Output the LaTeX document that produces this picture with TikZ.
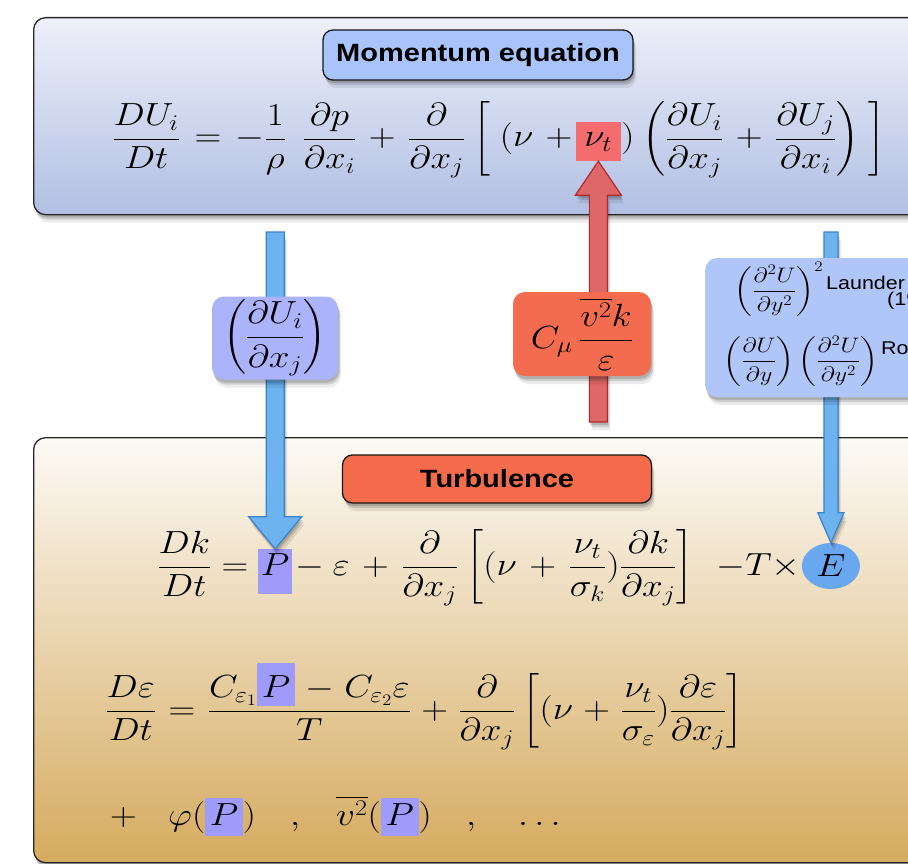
\RequirePackage{fix-cm}
\documentclass[tikz,border=0pt]{standalone}
\usepackage{fontspec}
\usepackage{amsmath}
\usepackage{graphicx}
\setsansfont{Liberation Sans}
\usetikzlibrary{calc,shadows,shapes.geometric}
\definecolor{topA}{HTML}{EEF0F9}
\definecolor{topB}{HTML}{B1BFE3}
\definecolor{botA}{HTML}{FCFAF6}
\definecolor{botB}{HTML}{D5AB5F}
\definecolor{momC}{HTML}{A9C3FB}
\definecolor{turbC}{HTML}{F56C4C}
\definecolor{hlPC}{HTML}{9E9BFB}
\definecolor{hlNuC}{HTML}{F46C6E}
\definecolor{arrB}{HTML}{6DB3EF}
\definecolor{arrBd}{HTML}{3B83CC}
\definecolor{arrR}{HTML}{DE6767}
\definecolor{arrRd}{HTML}{B02A2A}
\definecolor{ellC}{HTML}{6AA7F1}
\definecolor{boxOneC}{HTML}{ABB3FB}
\definecolor{boxTwoC}{HTML}{F36C4F}
\definecolor{boxThreeC}{HTML}{B1C6F8}
\newcommand{\eqsize}{\fontsize{32}{38}\selectfont}
\newcommand{\sx}[1]{\scalebox{1.16}[1]{#1}}
\newcommand{\spwide}{\thinmuskip=4mu\medmuskip=6mu\thickmuskip=7mu}
\newcommand{\spmid}{\thinmuskip=4mu\medmuskip=6mu\thickmuskip=7mu}
\newcommand{\hlP}[2]{{\setlength{\fboxsep}{0pt}\colorbox{hlPC}{#1\hspace{4pt}$#2$\hspace{4pt}}}}
\newcommand{\vblockarrow}[6]{%
  \path[#6] let \p1=(#1), \p2=(#2), \n1={sign(\y2-\y1)*#5} in
  ({\x2-#3},\y1) -- ({\x2-#3},{\y2-(\n1)}) -- ({\x2-#4},{\y2-(\n1)}) -- (\x2,\y2)
  -- ({\x2+#4},{\y2-(\n1)}) -- ({\x2+#3},{\y2-(\n1)}) -- ({\x2+#3},\y1) -- cycle;}
\begin{document}
\begin{tikzpicture}[x=1pt,y=-1pt,
  shad/.style={drop shadow={shadow xshift=1pt,shadow yshift=-3pt,opacity=0.15,fill=black},
               drop shadow={shadow xshift=2pt,shadow yshift=-5pt,opacity=0.12,fill=black},
               drop shadow={shadow xshift=3pt,shadow yshift=-8pt,opacity=0.08,fill=black}},
  panel/.style={draw=black!85,line width=1.3pt,rounded corners=12pt,shad,inner sep=0pt},
  tag/.style={draw=black!90,line width=1.3pt,rounded corners=10pt,shad,font=\sffamily\bfseries\fontsize{25}{30}\selectfont},
  eq/.style={inner sep=0pt,font=\eqsize},
  midbox/.style={rounded corners=12pt,shad,inner sep=0pt,font=\eqsize},
  small/.style={inner sep=0pt,font=\fontsize{21}{25}\selectfont},
  stext/.style={inner sep=0pt,anchor=west,font=\sffamily\fontsize{18.5}{22}\selectfont},
  blueArr/.style={fill=arrB,draw=arrBd,line width=1.2pt,shad},
  redArr/.style={fill=arrR,draw=arrRd,line width=1.2pt,shad}]
\useasboundingbox (0,0) rectangle (908,864);
\clip (0,0) rectangle (908,864);
% panels
\node[panel,top color=topA,bottom color=topB,anchor=north west,minimum width=920pt,minimum height=197pt] (top) at (33,17) {};
\node[panel,top color=botA,bottom color=botB,anchor=north west,minimum width=920pt,minimum height=425pt] (bot) at (33,437) {};
\node[tag,fill=momC,minimum width=310pt,minimum height=50pt] (mom) at (478,55) {\sx{Momentum equation}};
\node[tag,fill=turbC,minimum width=309pt,minimum height=48pt] (turb) at (497,479) {\sx{Turbulence}};
% momentum equation
\node[eq,anchor=base west] (m1) at (112,147) {\sx{\spwide$\displaystyle \frac{DU_i}{Dt} = -\frac{1}{\rho}\mskip8mu\frac{\partial p}{\partial x_i} + \frac{\partial}{\partial x_j}\left[\vphantom{\left(\frac{\partial U_i}{\partial x_j}\right)}\right.(\nu\mskip\medmuskip\mathord{+}$}};
\node[eq,fill=hlNuC,anchor=base west,minimum width=45pt,text height=25pt,text depth=14pt] (nut) at ([xshift=3pt]m1.base east) {\sx{$\nu_t$}};
\node[eq,anchor=base west] (m2) at (nut.base east) {\sx{\spwide$\displaystyle )\left(\frac{\partial U_i}{\partial x_j}+\frac{\partial U_j}{\partial x_i}\right)\left.\vphantom{\left(\frac{\partial U_i}{\partial x_j}\right)}\right]$}};
% k equation
\node[eq,anchor=base west] (k1) at (157,575) {\sx{$\displaystyle \frac{Dk}{Dt} =$}};
\node[eq,fill=hlPC,anchor=base west,minimum width=34pt,text height=26pt,text depth=19pt] (P1) at (258,575) {\sx{$P$}};
\node[eq,anchor=base west] (k2) at ([xshift=3pt]P1.base east) {\sx{\spmid$\displaystyle -\,\varepsilon + \frac{\partial}{\partial x_j}\left[(\nu + \frac{\nu_t}{\sigma_k})\frac{\partial k}{\partial x_j}\right]\; {-}T\times$}};
\coordinate (ey) at (0,566);
\node[eq,ellipse,fill=ellC,inner sep=0pt,minimum width=58pt,minimum height=46pt,anchor=west] (E) at ([xshift=1pt]k2.east|-ey) {\sx{$E$}};
% epsilon equation
\node[eq,anchor=base west] (e1) at (105,719) {\sx{\thinmuskip=3.5mu\medmuskip=5mu\thickmuskip=6mu$\displaystyle \frac{D\varepsilon}{Dt} = \frac{C_{\varepsilon_1}\hlP{\rule[-9pt]{0pt}{43pt}}{P}- C_{\varepsilon_2}\varepsilon}{T} + \frac{\partial}{\partial x_j}\left[(\nu + \frac{\nu_t}{\sigma_\varepsilon})\frac{\partial \varepsilon}{\partial x_j}\right]$}};
% last line
\node[eq,anchor=base west] (l1) at (110,825) {\sx{$+$}};
\node[eq,anchor=base west] (l2) at (168,825) {\sx{$\varphi(\hlP{\rule[-11pt]{0pt}{38pt}}{P})$}};
\node[eq,anchor=base west] (l3) at (290,825) {\sx{$,$}};
\node[eq,anchor=base west] (l4) at (336,825) {\sx{$\overline{v^2}(\hlP{\rule[-11pt]{0pt}{38pt}}{P})$}};
\node[eq,anchor=base west] (l5) at (466,825) {\sx{$,$}};
\node[eq,anchor=base west] (l6) at (518,825) {\sx{$\ldots$}};
% arrows
\coordinate (sL) at (276,232);
\coordinate (sR) at (829,232);
\coordinate (sM) at (586,422);
\vblockarrow{sL}{P1.north}{9}{26.5}{32}{blueArr}
\vblockarrow{sR}{E.north}{7}{13}{30}{blueArr}
\vblockarrow{sM}{nut.south}{9}{23}{34}{redArr}
% middle boxes
\node[midbox,fill=boxOneC,minimum width=126pt,minimum height=83pt] (b1) at (275,338) {\sx{$\displaystyle\left(\frac{\partial U_i}{\partial x_j}\right)$}};
\node[midbox,fill=boxTwoC,minimum width=138pt,minimum height=84pt] (b2) at (582,334) {\sx{$\displaystyle C_\mu\,\frac{\overline{v^2}k}{\varepsilon}$}};
\node[midbox,fill=boxThreeC,anchor=west,minimum width=260pt,minimum height=139pt] (b3) at (705,327.5) {};
\node[small] (t1) at (779,289) {\sx{$\displaystyle\left(\frac{\partial^2U}{\partial y^2}\right)^{2}$}};
\node[stext] (t2) at (826,283) {\sx{Launder}};
\node[stext] (t3) at (887,301) {\sx{(19}};
\node[small] (t4) at (801,361) {\sx{$\displaystyle\left(\frac{\partial U}{\partial y}\right)\left(\frac{\partial^2U}{\partial y^2}\right)$}};
\node[stext] (t5) at (881,348) {\sx{Ro}};
\end{tikzpicture}
\end{document}
